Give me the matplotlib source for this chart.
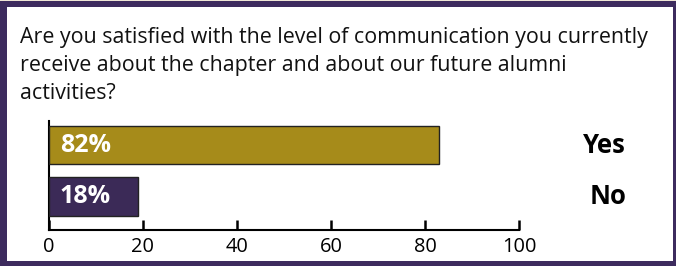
import matplotlib
matplotlib.use("Agg")
import matplotlib.pyplot as plt
from matplotlib.patches import Rectangle

question = ("Are you satisfied with the level of communication you currently\n"
            "receive about the chapter and about our future alumni\n"
            "activities?")
answers = ["Yes", "No"]
values = [83, 19]
value_labels = ["82%", "18%"]
bar_colors = ["#a68b1a", "#3b2a57"]
ticks = [0, 20, 40, 60, 80, 100]

plt.rcParams["font.family"] = ["Open Sans", "DejaVu Sans"]

W, H = 676, 266
fig = plt.figure(figsize=(W / 100, H / 100), dpi=100)
fig.patch.set_facecolor("#efe6d6")

# purple frame with white panel inside
frame = "#3d2b5e"
fig.add_artist(Rectangle((0, 0), 1, 1 - 1 / H, transform=fig.transFigure,
                         facecolor=frame, edgecolor="none", zorder=-2))
fig.add_artist(Rectangle((7 / W, 5 / H), (673 - 7) / W, (259 - 5) / H,
                         transform=fig.transFigure, facecolor="white",
                         edgecolor="none", zorder=-1))

fig.text(20 / W, 1 - 27 / H, question, ha="left", va="top", fontsize=15.4,
         linespacing=1.44, color="#111111")

# axes: x=0 at px 49, x=100 at px 519; axis line at y=230, top at 121
ax = fig.add_axes([49 / W, 1 - 230 / H, 470 / W, 109 / H])
ax.set_facecolor("none")
ypos = [0, 1]
ax.barh(ypos, values, height=0.75, color=bar_colors, edgecolor="#222222",
        linewidth=1.0, zorder=3)
ax.set_ylim(1.65, -0.466)
ax.set_xlim(0, 100)

for y, lab in zip(ypos, value_labels):
    ax.text(2.3, y, lab, ha="left", va="center", color="white",
            fontsize=18, fontweight="bold", zorder=4)
for y, lab in zip(ypos, answers):
    ax.text(1.0 + 107 / 470, y, lab, ha="right", va="center",
            transform=ax.get_yaxis_transform(), fontsize=18.5,
            fontweight="bold", color="black")

for s in ["top", "right"]:
    ax.spines[s].set_visible(False)
ax.spines["left"].set_linewidth(1.5)
ax.spines["bottom"].set_linewidth(1.5)
ax.set_yticks([])
ax.set_xticks(ticks)
ax.tick_params(axis="x", direction="in", length=7, width=1.8, pad=5,
               labelsize=14.4)

fig.savefig("out.png", dpi=100)
